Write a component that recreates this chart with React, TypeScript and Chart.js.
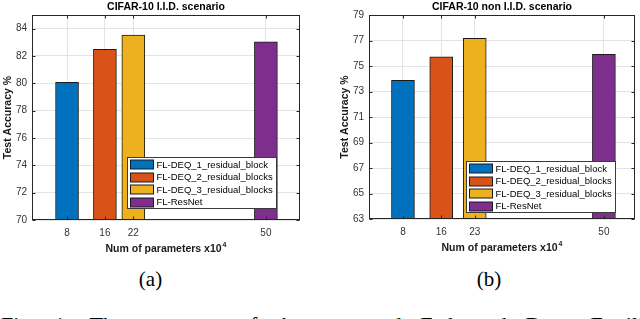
import React, { useEffect, useRef } from "react";
import { Chart, registerables } from "chart.js";

Chart.register(...registerables);

// ---- data ----
const seriesNames = [
  "FL-DEQ_1_residual_block",
  "FL-DEQ_2_residual_blocks",
  "FL-DEQ_3_residual_blocks",
  "FL-ResNet",
];
const seriesColors = ["#0072BD", "#D95319", "#EDB120", "#7E2F8E"];

const iidParams = [8, 16, 22, 50];
const iidAccuracy = [80.07, 82.49, 83.53, 83.03];
const iidYTicks = [70, 72, 74, 76, 78, 80, 82, 84];

const nonIidParams = [8, 16, 23, 50];
const nonIidAccuracy = [73.88, 75.71, 77.18, 75.92];
const nonIidYTicks = [63, 65, 67, 69, 71, 73, 75, 77, 79];

const iidTitle = "CIFAR-10 I.I.D. scenario";
const nonIidTitle = "CIFAR-10 non I.I.D. scenario";
const yTitle = "Test Accuracy %";
const xTitle = "Num of parameters x10";
const xTitleSup = "4";

const FONT = "'Liberation Sans', Arial, Helvetica, sans-serif";
const SERIF = "'Liberation Serif', 'Times New Roman', Times, serif";
const AXIS = "#262626";

type Panel = {
  title: string;
  params: number[];
  acc: number[];
  yTicks: number[];
  yMin: number;
  yMax: number;
  xMin: number;
  xMax: number;
  yAxisWidth: number;
  padRight: number;
  bottomPx: number;
  legendRight: number;
  legendBottom: number;
  yTitleOffset: number;
};

const CANVAS_W = 320;
const CANVAS_H = 262;

function decorPlugin(p: Panel) {
  return {
    id: "matlabDecor",
    afterDraw(chart: any) {
      const { ctx, chartArea: a } = chart;
      const xs = chart.scales.x;
      const ys = chart.scales.y;
      const L = Math.round(a.left) + 0.5;
      const R = Math.round(a.right) - 0.5;
      const T = Math.round(a.top) + 0.5;
      const B = Math.round(a.bottom) - 0.5;
      ctx.save();
      // box
      ctx.strokeStyle = AXIS;
      ctx.lineWidth = 1;
      ctx.strokeRect(L, T, R - L, B - T);
      // inward ticks
      ctx.beginPath();
      p.params.forEach((v) => {
        const x = Math.round(xs.getPixelForValue(v)) + 0.5;
        ctx.moveTo(x, B);
        ctx.lineTo(x, B - 3);
        ctx.moveTo(x, T);
        ctx.lineTo(x, T + 3);
      });
      p.yTicks.forEach((v) => {
        const y = Math.round(ys.getPixelForValue(v)) + 0.5;
        ctx.moveTo(L, y);
        ctx.lineTo(L + 3, y);
        ctx.moveTo(R, y);
        ctx.lineTo(R - 3, y);
      });
      ctx.stroke();

      // legend
      const lw = 149;
      const lh = 51;
      const bx = Math.round(a.right - p.legendRight - lw) + 0.5;
      const by = Math.round(a.bottom - p.legendBottom - lh) + 0.5;
      ctx.fillStyle = "#ffffff";
      ctx.fillRect(bx, by, lw, lh);
      ctx.strokeStyle = "#3a3a3a";
      ctx.strokeRect(bx, by, lw, lh);
      ctx.font = `9.5px ${FONT}`;
      ctx.textBaseline = "middle";
      ctx.textAlign = "left";
      chart.data.datasets.forEach((ds: any, i: number) => {
        const cy = by + 7 + i * 12.6;
        ctx.fillStyle = ds.backgroundColor;
        ctx.fillRect(bx + 3, Math.round(cy - 4.5), 23, 9);
        ctx.strokeStyle = "#1a1a1a";
        ctx.strokeRect(bx + 3, Math.round(cy - 4.5), 23, 9);
        ctx.fillStyle = "#000";
        ctx.fillText(ds.label, bx + 29, cy + 0.5);
      });

      // chart title
      const cx = (a.left + a.right) / 2;
      ctx.fillStyle = "#000";
      ctx.font = `bold 10.5px ${FONT}`;
      ctx.textAlign = "center";
      ctx.textBaseline = "middle";
      ctx.fillText(p.title, cx, 7);

      // y title
      ctx.save();
      ctx.translate(a.left - p.yTitleOffset, (a.top + a.bottom) / 2);
      ctx.rotate(-Math.PI / 2);
      ctx.fillStyle = "#1a1a1a";
      ctx.fillText(yTitle, 0, 0);
      ctx.restore();

      // x title with superscript
      ctx.font = `bold 10.5px ${FONT}`;
      const w1 = ctx.measureText(xTitle).width;
      ctx.font = `bold 7px ${FONT}`;
      const w2 = ctx.measureText(xTitleSup).width;
      const startX = cx - (w1 + w2 + 1) / 2;
      const ty = a.bottom + 29.5;
      ctx.textAlign = "left";
      ctx.fillStyle = "#1a1a1a";
      ctx.font = `bold 10.5px ${FONT}`;
      ctx.fillText(xTitle, startX, ty);
      ctx.font = `bold 7px ${FONT}`;
      ctx.fillText(xTitleSup, startX + w1 + 1, ty - 4);
      ctx.restore();
    },
  };
}

function BarPanel({ p, left }: { p: Panel; left: number }) {
  const ref = useRef<HTMLCanvasElement | null>(null);
  useEffect(() => {
    if (!ref.current) return;
    const datasets = seriesNames.map((name, i) => ({
      label: name,
      data: [{ x: p.params[i], y: p.acc[i] }],
      backgroundColor: seriesColors[i],
      borderColor: "#1a1a1a",
      borderWidth: 1,
      barThickness: 23,
      grouped: false,
    }));
    const chart = new Chart(ref.current, {
      type: "bar",
      data: { datasets } as any,
      options: {
        animation: false,
        responsive: false,
        maintainAspectRatio: false,
        layout: { padding: { top: 15, right: p.padRight, left: 0, bottom: 0 } },
        plugins: {
          legend: { display: false },
          tooltip: { enabled: false },
          title: { display: false },
        },
        scales: {
          x: {
            type: "linear",
            min: p.xMin,
            max: p.xMax,
            offset: false,
            grid: { offset: false, color: "#e4e4e4", drawTicks: false },
            border: { display: false },
            afterBuildTicks: (s: any) => {
              s.ticks = p.params.map((v) => ({ value: v }));
            },
            afterFit: (s: any) => {
              s.height = CANVAS_H - p.bottomPx;
            },
            ticks: {
              padding: 7,
              color: "#333",
              font: { family: FONT, size: 10 },
              callback: (v: any) => String(v),
            },
          },
          y: {
            type: "linear",
            min: p.yMin,
            max: p.yMax,
            grid: { color: "#e4e4e4", drawTicks: false },
            border: { display: false },
            afterBuildTicks: (s: any) => {
              s.ticks = p.yTicks.map((v) => ({ value: v }));
            },
            afterFit: (s: any) => {
              s.width = p.yAxisWidth;
            },
            ticks: {
              padding: 5,
              color: "#333",
              font: { family: FONT, size: 10 },
              callback: (v: any) => String(v),
            },
          },
        },
      } as any,
      plugins: [decorPlugin(p)],
    });
    return () => chart.destroy();
  }, [p]);
  return (
    <canvas
      ref={ref}
      width={CANVAS_W}
      height={CANVAS_H}
      style={{ position: "absolute", left, top: 0, width: CANVAS_W, height: CANVAS_H }}
    />
  );
}

const iidPanel: Panel = {
  title: iidTitle,
  params: iidParams,
  acc: iidAccuracy,
  yTicks: iidYTicks,
  yMin: 70,
  yMax: 85,
  xMin: 0.6,
  xMax: 57.2,
  yAxisWidth: 32,
  padRight: 20,
  bottomPx: 220,
  legendRight: 24,
  legendBottom: 12,
  yTitleOffset: 23.5,
};

const nonIidPanel: Panel = {
  title: nonIidTitle,
  params: nonIidParams,
  acc: nonIidAccuracy,
  yTicks: nonIidYTicks,
  yMin: 63,
  yMax: 79,
  xMin: 0.9,
  xMax: 56.5,
  yAxisWidth: 49,
  padRight: 5,
  bottomPx: 219,
  legendRight: 20,
  legendBottom: 7,
  yTitleOffset: 23.5,
};

export default function App() {
  return (
    <div
      style={{
        position: "fixed",
        left: 0,
        top: 0,
        width: 640,
        height: 319,
        overflow: "hidden",
        background: "#fff",
      }}
    >
      <BarPanel p={iidPanel} left={0} />
      <BarPanel p={nonIidPanel} left={320} />
      <div
        style={{
          position: "absolute",
          left: 100.5,
          width: 100,
          top: 269,
          textAlign: "center",
          fontFamily: SERIF,
          fontSize: 21,
          lineHeight: "21px",
          color: "#000",
        }}
      >
        (a)
      </div>
      <div
        style={{
          position: "absolute",
          left: 439,
          width: 100,
          top: 269,
          textAlign: "center",
          fontFamily: SERIF,
          fontSize: 21,
          lineHeight: "21px",
          color: "#000",
        }}
      >
        (b)
      </div>
      <div
        style={{
          position: "absolute",
          left: 1,
          top: 314,
          whiteSpace: "nowrap",
          fontFamily: SERIF,
          fontSize: 22,
          lineHeight: "22px",
          wordSpacing: "13px",
          color: "#000",
        }}
      >
        Fig. 1: The accuracy of the proposed Federated Deep Equilibrium
      </div>
    </div>
  );
}
